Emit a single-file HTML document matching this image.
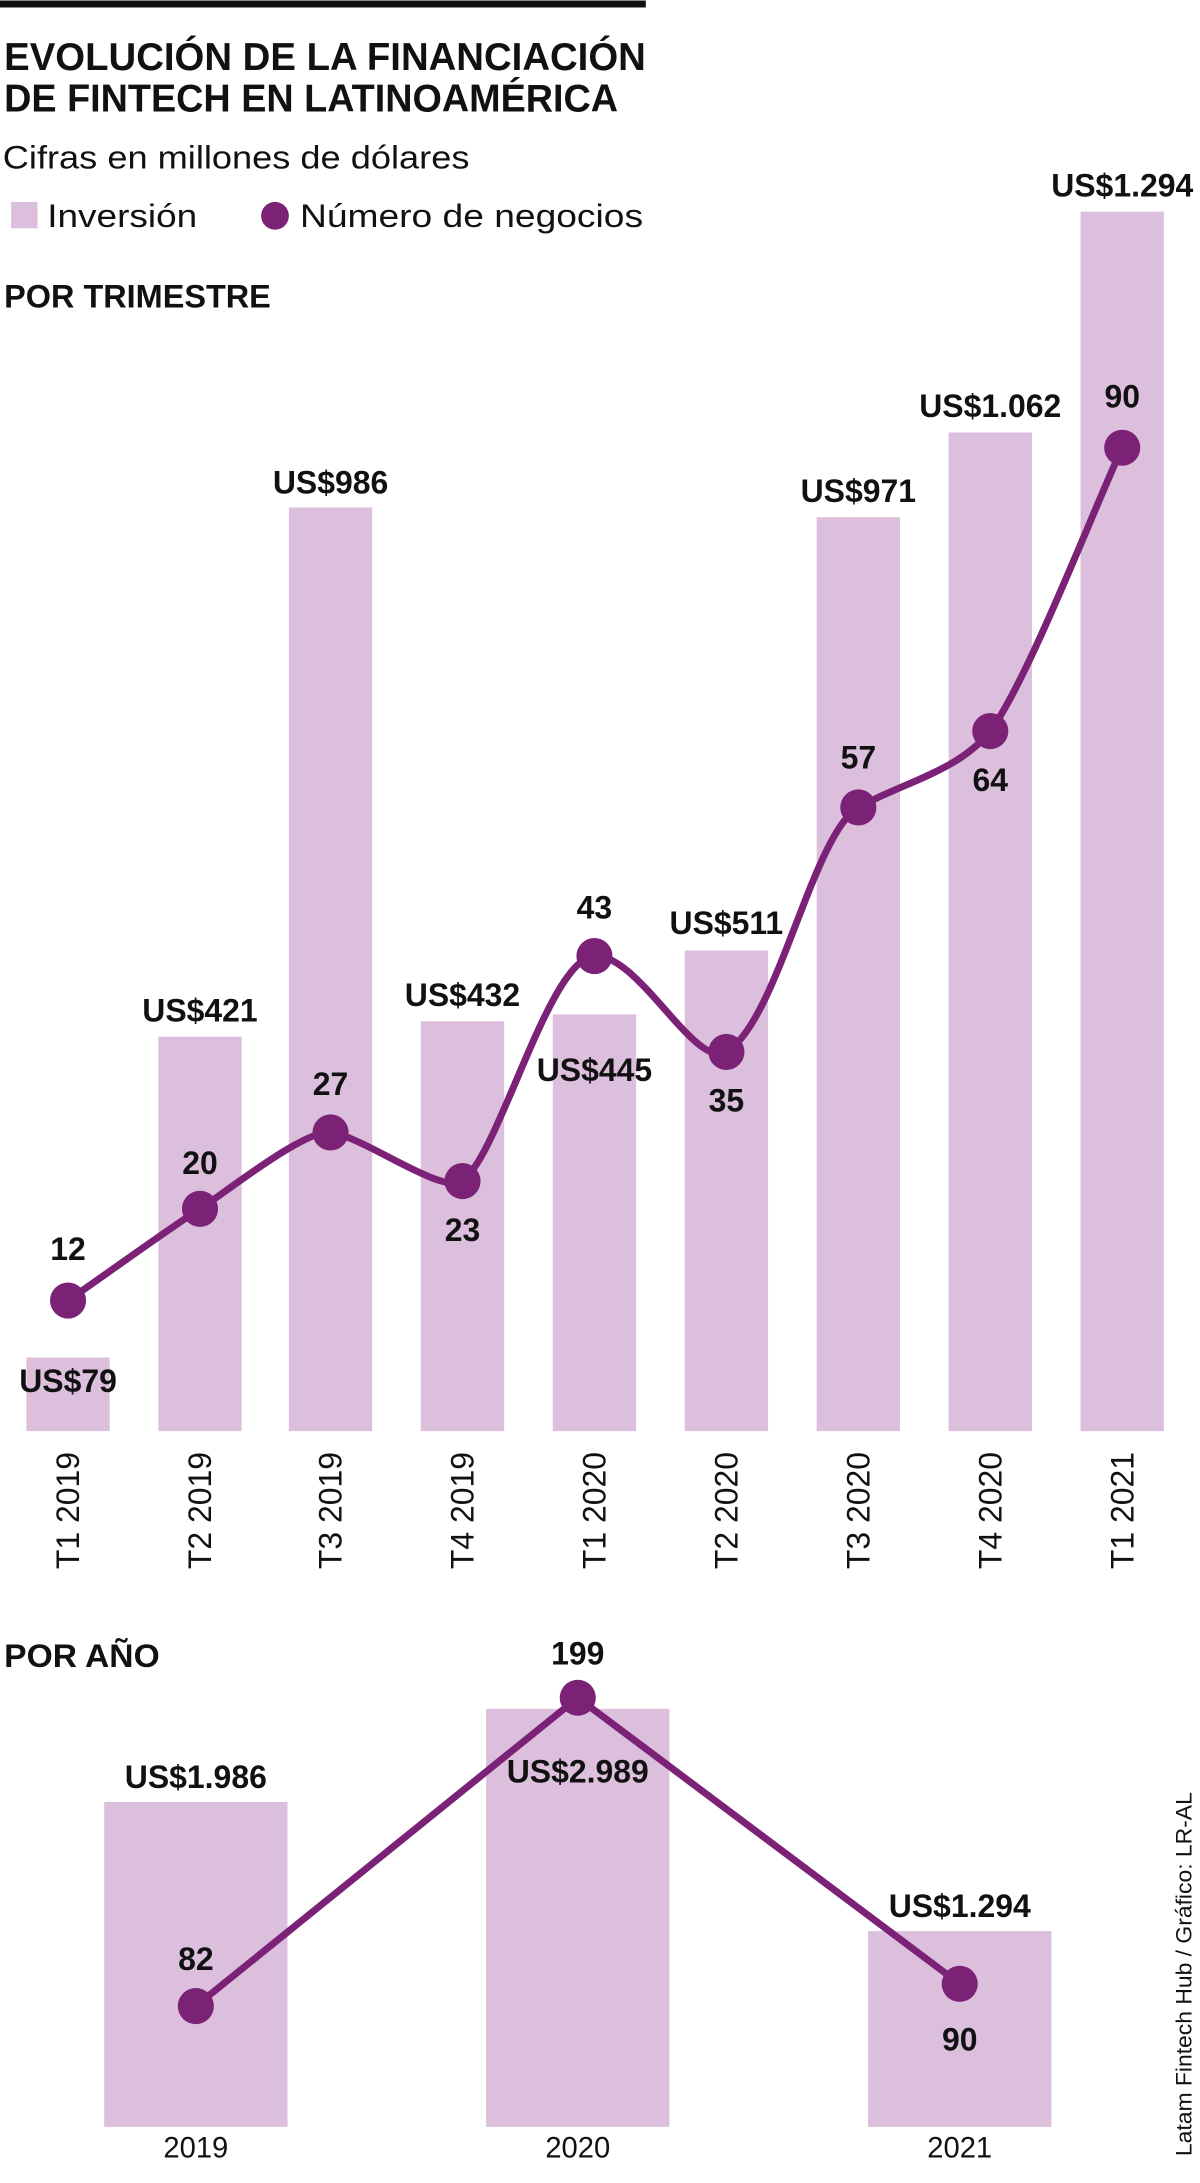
<!DOCTYPE html>
<html><head><meta charset="utf-8"><style>
html,body{margin:0;padding:0;background:#fff;}
svg{display:block}
text{font-family:"Liberation Sans",sans-serif;}
.b{font-weight:bold;font-size:23px;fill:#111;}
.n{font-size:21px;fill:#111;}
</style></head><body>
<svg width="1200" height="2183" viewBox="0 0 864 1571" xmlns="http://www.w3.org/2000/svg">
<rect x="0" y="0" width="465" height="5" fill="#111"/>
<text x="3" y="50" font-weight="bold" font-size="28" textLength="462" lengthAdjust="spacingAndGlyphs" fill="#111">EVOLUCIÓN DE LA FINANCIACIÓN</text>
<text x="3" y="80" font-weight="bold" font-size="28" textLength="442" lengthAdjust="spacingAndGlyphs" fill="#111">DE FINTECH EN LATINOAMÉRICA</text>
<text x="2" y="121" font-size="23" textLength="336" lengthAdjust="spacingAndGlyphs" fill="#111">Cifras en millones de dólares</text>
<rect x="8" y="145" width="19" height="19" fill="#dcbfdc"/>
<text x="34" y="163" font-size="23" textLength="108" lengthAdjust="spacingAndGlyphs" fill="#111">Inversión</text>
<circle cx="198" cy="155" r="10" fill="#7b2277"/>
<text x="216" y="163" font-size="23" textLength="247" lengthAdjust="spacingAndGlyphs" fill="#111">Número de negocios</text>
<text x="3" y="221" font-weight="bold" font-size="23" textLength="192" lengthAdjust="spacingAndGlyphs" fill="#111">POR TRIMESTRE</text>
<g fill="#dcbfdc">
<rect x="19" y="977" width="60" height="53"/>
<rect x="114" y="746" width="60" height="284"/>
<rect x="208" y="365" width="60" height="665"/>
<rect x="303" y="735" width="60" height="295"/>
<rect x="398" y="730" width="60" height="300"/>
<rect x="493" y="684" width="60" height="346"/>
<rect x="588" y="372" width="60" height="658"/>
<rect x="683" y="311" width="60" height="719"/>
<rect x="778" y="152" width="60" height="878"/>
</g>
<g class="b" text-anchor="middle">
<text class="b" x="49" y="1002">US$79</text>
<text class="b" x="144" y="735">US$421</text>
<text class="b" x="238" y="355">US$986</text>
<text class="b" x="333" y="724">US$432</text>
<text class="b" x="428" y="778">US$445</text>
<text class="b" x="523" y="672">US$511</text>
<text class="b" x="618" y="361">US$971</text>
<text class="b" x="713" y="300">US$1.062</text>
<text class="b" x="808" y="141">US$1.294</text>
</g>
<path d="M49,936 C65,925 125,882 144,870 C160,860 220,812 238,815 C262,818 318,860 333,850 C360,830 395,690 428,688 C460,686 500,770 523,757 C560,735 585,600 618,581 C650,563 690,555 713,526 C740,490 790,360 808,322" fill="none" stroke="#7b2277" stroke-width="5"/>
<g fill="#7b2277">
<circle cx="49" cy="936" r="13"/><circle cx="144" cy="870" r="13"/><circle cx="238" cy="815" r="13"/>
<circle cx="333" cy="850" r="13"/><circle cx="428" cy="688" r="13"/><circle cx="523" cy="757" r="13"/>
<circle cx="618" cy="581" r="13"/><circle cx="713" cy="526" r="13"/><circle cx="808" cy="322" r="13"/>
</g>
<g text-anchor="middle">
<text class="b" x="49" y="907">12</text>
<text class="b" x="144" y="845">20</text>
<text class="b" x="238" y="788">27</text>
<text class="b" x="333" y="893">23</text>
<text class="b" x="428" y="661">43</text>
<text class="b" x="523" y="800">35</text>
<text class="b" x="618" y="553">57</text>
<text class="b" x="713" y="569">64</text>
<text class="b" x="808" y="293">90</text>
</g>
<g text-anchor="end" font-size="23" fill="#111">
<text transform="translate(57,1045) rotate(-90)">T1 2019</text>
<text transform="translate(152,1045) rotate(-90)">T2 2019</text>
<text transform="translate(246,1045) rotate(-90)">T3 2019</text>
<text transform="translate(341,1045) rotate(-90)">T4 2019</text>
<text transform="translate(436,1045) rotate(-90)">T1 2020</text>
<text transform="translate(531,1045) rotate(-90)">T2 2020</text>
<text transform="translate(626,1045) rotate(-90)">T3 2020</text>
<text transform="translate(721,1045) rotate(-90)">T4 2020</text>
<text transform="translate(816,1045) rotate(-90)">T1 2021</text>
</g>
<text x="3" y="1200" font-weight="bold" font-size="23" textLength="112" lengthAdjust="spacingAndGlyphs" fill="#111">POR AÑO</text>
<g fill="#dcbfdc">
<rect x="75" y="1297" width="132" height="234"/>
<rect x="350" y="1230" width="132" height="301"/>
<rect x="625" y="1390" width="132" height="141"/>
</g>
<polyline points="141,1444 416,1222 691,1428" fill="none" stroke="#7b2277" stroke-width="5"/>
<g fill="#7b2277"><circle cx="141" cy="1444" r="13"/><circle cx="416" cy="1222" r="13"/><circle cx="691" cy="1428" r="13"/></g>
<g text-anchor="middle">
<text class="b" x="141" y="1287">US$1.986</text>
<text class="b" x="416" y="1283">US$2.989</text>
<text class="b" x="691" y="1380">US$1.294</text>
<text class="b" x="141" y="1418">82</text>
<text class="b" x="416" y="1198">199</text>
<text class="b" x="691" y="1476">90</text>
<text class="n" x="141" y="1553">2019</text>
<text class="n" x="416" y="1553">2020</text>
<text class="n" x="691" y="1553">2021</text>
</g>
<text transform="translate(858,1552) rotate(-90)" font-size="16" fill="#111" textLength="262" lengthAdjust="spacingAndGlyphs">Latam Fintech Hub / Gráfico: LR-AL</text>
</svg>
</body></html>
